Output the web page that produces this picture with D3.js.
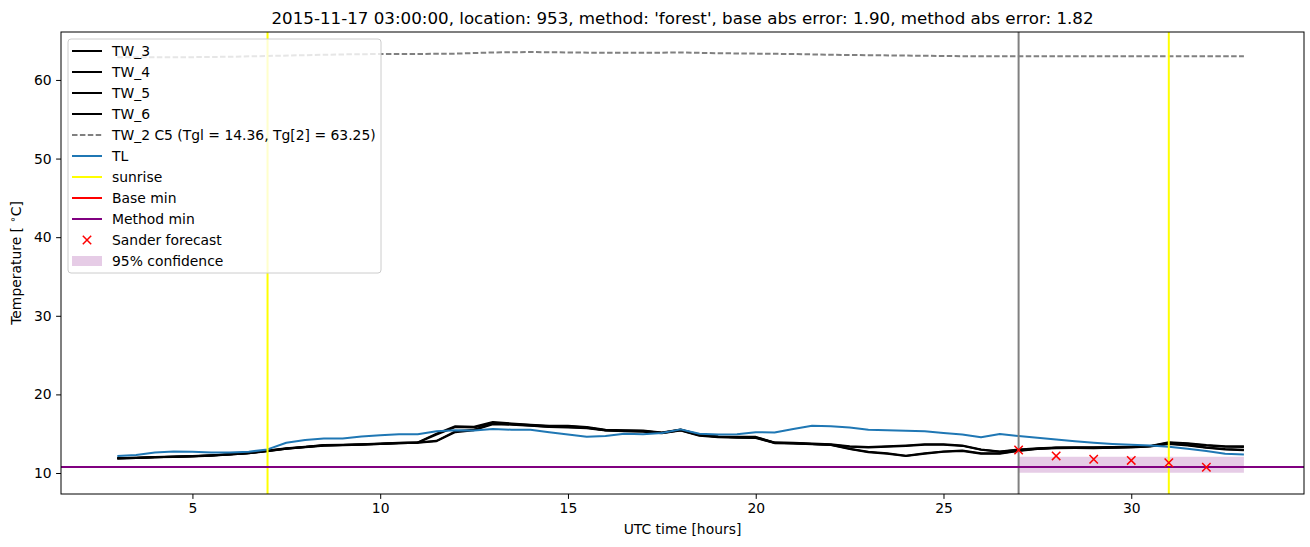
<!DOCTYPE html>
<html>
<head>
<meta charset="utf-8">
<script src="https://cdn.jsdelivr.net/npm/d3@7/dist/d3.min.js"></script>
<style>
  html, body { margin: 0; padding: 0; background: #fff; }
  svg { display: block; font-family: "DejaVu Sans", sans-serif; }
</style>
</head>
<body>
<svg id="chart" width="1310" height="547"></svg>
<script>
// ---------------- data ----------------
const hours = [3.0,3.5,4.0,4.5,5.0,5.5,6.0,6.5,7.0,7.5,8.0,8.5,9.0,9.5,10.0,10.5,11.0,11.5,12.0,12.5,13.0,13.5,14.0,14.5,15.0,15.5,16.0,16.5,17.0,17.5,18.0,18.5,19.0,19.5,20.0,20.5,21.0,21.5,22.0,22.5,23.0,23.5,24.0,24.5,25.0,25.5,26.0,26.5,27.0,27.5,28.0,28.5,29.0,29.5,30.0,30.5,31.0,31.5,32.0,32.5,33.0];

const TL = [12.16,12.3,12.6,12.75,12.7,12.6,12.6,12.7,13.0,13.85,14.2,14.4,14.4,14.65,14.8,14.92,14.92,15.3,15.45,15.4,15.6,15.5,15.5,15.2,14.9,14.6,14.7,15.0,14.92,15.1,15.55,15.0,14.9,14.92,15.2,15.15,15.6,16.0,15.95,15.8,15.5,15.45,15.38,15.3,15.1,14.9,14.55,14.95,14.7,14.5,14.25,14.05,13.85,13.7,13.58,13.5,13.35,13.1,12.8,12.45,12.35];

const TW_3 = [11.9,11.95,12.05,12.1,12.15,12.25,12.4,12.55,12.85,13.15,13.35,13.55,13.6,13.65,13.75,13.85,13.9,15.0,15.95,15.9,16.5,16.3,16.15,16.0,16.0,15.85,15.5,15.45,15.4,15.15,15.55,14.9,14.65,14.6,14.6,13.9,13.85,13.75,13.65,13.4,13.3,13.4,13.5,13.65,13.65,13.5,13.0,12.75,13.0,13.15,13.25,13.27,13.27,13.3,13.35,13.45,13.9,13.8,13.55,13.4,13.4];
const TW_4 = [11.85,11.92,12.0,12.06,12.12,12.22,12.36,12.52,12.8,13.1,13.3,13.5,13.56,13.62,13.7,13.8,13.86,14.9,15.85,15.8,16.4,16.25,16.1,15.95,15.95,15.8,15.45,15.4,15.35,15.12,15.5,14.85,14.6,14.56,14.55,13.85,13.8,13.7,13.6,13.35,13.25,13.35,13.45,13.6,13.6,13.45,12.95,12.7,12.95,13.1,13.2,13.22,13.22,13.26,13.3,13.42,13.85,13.72,13.5,13.35,13.32];
const TW_5 = [11.88,11.93,12.02,12.08,12.13,12.23,12.38,12.53,12.82,13.12,13.32,13.52,13.57,13.63,13.72,13.82,13.88,14.1,15.3,15.5,16.3,16.2,16.05,15.9,15.85,15.75,15.45,15.35,15.3,15.1,15.45,14.8,14.6,14.55,14.5,13.85,13.8,13.7,13.6,13.1,12.7,12.5,12.2,12.5,12.75,12.85,12.5,12.5,12.85,13.1,13.2,13.22,13.2,13.25,13.3,13.4,13.75,13.55,13.25,13.05,12.95];
const TW_6 = [11.84,11.9,12.0,12.05,12.1,12.2,12.35,12.5,12.78,13.08,13.28,13.48,13.54,13.6,13.68,13.78,13.84,14.05,15.2,15.45,16.2,16.15,16.0,15.85,15.8,15.7,15.4,15.3,15.25,15.05,15.4,14.75,14.55,14.5,14.45,13.8,13.75,13.65,13.55,13.05,12.65,12.45,12.15,12.45,12.7,12.8,12.45,12.45,12.8,13.05,13.15,13.18,13.16,13.2,13.26,13.36,13.7,13.5,13.2,13.0,12.9];

const tw2Hours = [3,4,5,6,7,8,9,10,11,12,13,14,15,16,17,18,19,20,21,22,23,24,25,26,27,28,29,30,31,32,33];
const TW_2 = [62.9,62.9,62.9,62.95,63.05,63.15,63.25,63.3,63.3,63.35,63.5,63.55,63.5,63.45,63.45,63.5,63.4,63.35,63.3,63.2,63.15,63.1,63.05,63.0,63.0,63.0,63.0,63.0,63.0,63.0,63.0];

const sunriseHours = [7, 31];
const forecastStartHour = 27;
const baseMin = 10.76;
const methodMin = 10.78;

const forecastHours = [27, 28, 29, 30, 31, 32];
const forecastValues = [12.93, 12.17, 11.75, 11.6, 11.3, 10.73];

const confHours = [27, 33];
const confLow = [10.04, 10.04];
const confHigh = [12.08, 12.08];

const xTicks = [5, 10, 15, 20, 25, 30];
const yTicks = [10, 20, 30, 40, 50, 60];

const titleText = "2015-11-17 03:00:00, location: 953, method: 'forest', base abs error: 1.90, method abs error: 1.82";
const legendLabels = ["TW_3","TW_4","TW_5","TW_6","TW_2 C5 (Tgl = 14.36, Tg[2] = 63.25)","TL","sunrise","Base min","Method min","Sander forecast","95% confidence"];

// ---------------- layout ----------------
const svg = d3.select("#chart");
const L = 61, R = 1304, T = 32, B = 494;
const x = d3.scaleLinear().domain([1.5, 34.6]).range([L, R]);
const y = d3.scaleLinear().domain([7.33, 66.1]).range([B, T]);

const clipId = "plotclip";
svg.append("defs").append("clipPath").attr("id", clipId)
  .append("rect").attr("x", L).attr("y", T).attr("width", R - L).attr("height", B - T);

const plot = svg.append("g").attr("clip-path", `url(#${clipId})`);

// confidence band
const area = d3.area().x((d, i) => x(confHours[i])).y0((d, i) => y(confLow[i])).y1((d, i) => y(confHigh[i]));
plot.append("path").datum(confHours).attr("d", area).attr("fill", "purple").attr("fill-opacity", 0.2);

const line = (xs, ys) => d3.line().x((d, i) => x(xs[i])).y((d, i) => y(ys[i]))(xs);

// TW lines
[TW_3, TW_4, TW_5, TW_6].forEach(s => {
  plot.append("path").attr("d", line(hours, s)).attr("fill", "none")
    .attr("stroke", "black").attr("stroke-width", 2).attr("stroke-linejoin", "round");
});
// TW_2 dashed
plot.append("path").attr("d", line(tw2Hours, TW_2)).attr("fill", "none")
  .attr("stroke", "gray").attr("stroke-width", 2).attr("stroke-dasharray", "5.5,2.4");
// TL
plot.append("path").attr("d", line(hours, TL)).attr("fill", "none")
  .attr("stroke", "#1f77b4").attr("stroke-width", 2).attr("stroke-linejoin", "round");

// sunrise lines
sunriseHours.forEach(h => {
  plot.append("line").attr("x1", x(h)).attr("x2", x(h)).attr("y1", T).attr("y2", B)
    .attr("stroke", "yellow").attr("stroke-width", 2);
});
// forecast start
plot.append("line").attr("x1", x(forecastStartHour)).attr("x2", x(forecastStartHour)).attr("y1", T).attr("y2", B)
  .attr("stroke", "gray").attr("stroke-width", 2);
// base min / method min
plot.append("line").attr("x1", L).attr("x2", R).attr("y1", y(baseMin)).attr("y2", y(baseMin))
  .attr("stroke", "red").attr("stroke-width", 2);
plot.append("line").attr("x1", L).attr("x2", R).attr("y1", y(methodMin)).attr("y2", y(methodMin))
  .attr("stroke", "purple").attr("stroke-width", 2);

// forecast markers
const ms = 4.2;
forecastHours.forEach((h, i) => {
  const cx = x(h), cy = y(forecastValues[i]);
  plot.append("path").attr("d", `M${cx-ms},${cy-ms}L${cx+ms},${cy+ms}M${cx-ms},${cy+ms}L${cx+ms},${cy-ms}`)
    .attr("stroke", "red").attr("stroke-width", 1.5).attr("fill", "none");
});

// frame
svg.append("rect").attr("x", L).attr("y", T).attr("width", R - L).attr("height", B - T)
  .attr("fill", "none").attr("stroke", "black").attr("stroke-width", 1);

// axes
const fs = 13.9;
const xAxis = svg.append("g").attr("transform", `translate(0,${B})`)
  .call(d3.axisBottom(x).tickValues(xTicks).tickSize(4.9).tickPadding(4.5).tickFormat(d3.format("d")));
const yAxis = svg.append("g").attr("transform", `translate(${L},0)`)
  .call(d3.axisLeft(y).tickValues(yTicks).tickSize(4.9).tickPadding(4.5).tickFormat(d3.format("d")));
[xAxis, yAxis].forEach(a => {
  a.select(".domain").remove();
  a.selectAll("text").attr("font-family", "DejaVu Sans, sans-serif").attr("font-size", fs).attr("fill", "black");
  a.selectAll("line").attr("stroke", "black").attr("stroke-width", 1);
});

// labels
svg.append("text").attr("x", (L + R) / 2).attr("y", 534).attr("text-anchor", "middle")
  .attr("font-size", fs).text("UTC time [hours]");
const yl = svg.append("text").attr("transform", `translate(21,${(T + B) / 2}) rotate(-90)`)
  .attr("text-anchor", "middle").attr("font-size", fs);
yl.append("tspan").text("Temperature [ ");
yl.append("tspan").attr("font-size", 10).attr("dy", -5).text("\u2218");
yl.append("tspan").attr("dy", 5).text("C]");

svg.append("text").attr("x", (L + R) / 2).attr("y", 24).attr("text-anchor", "middle")
  .attr("font-size", 16.7).text(titleText);

// legend
const lg = svg.append("g");
lg.append("rect").attr("x", 68).attr("y", 39).attr("width", 313).attr("height", 234).attr("rx", 3)
  .attr("fill", "white").attr("fill-opacity", 0.8).attr("stroke", "#cccccc").attr("stroke-width", 1);
const rowY = i => 51 + i * 21;
const hx1 = 72, hx2 = 102, tx = 112;
legendLabels.forEach((lab, i) => {
  const yy = rowY(i);
  if (i < 4) {
    lg.append("line").attr("x1", hx1).attr("x2", hx2).attr("y1", yy).attr("y2", yy).attr("stroke", "black").attr("stroke-width", 2);
  } else if (i === 4) {
    lg.append("line").attr("x1", hx1).attr("x2", hx2).attr("y1", yy).attr("y2", yy).attr("stroke", "gray").attr("stroke-width", 2).attr("stroke-dasharray", "5.5,2.4");
  } else if (i === 5) {
    lg.append("line").attr("x1", hx1).attr("x2", hx2).attr("y1", yy).attr("y2", yy).attr("stroke", "#1f77b4").attr("stroke-width", 2);
  } else if (i === 6) {
    lg.append("line").attr("x1", hx1).attr("x2", hx2).attr("y1", yy).attr("y2", yy).attr("stroke", "yellow").attr("stroke-width", 2);
  } else if (i === 7) {
    lg.append("line").attr("x1", hx1).attr("x2", hx2).attr("y1", yy).attr("y2", yy).attr("stroke", "red").attr("stroke-width", 2);
  } else if (i === 8) {
    lg.append("line").attr("x1", hx1).attr("x2", hx2).attr("y1", yy).attr("y2", yy).attr("stroke", "purple").attr("stroke-width", 2);
  } else if (i === 9) {
    const cx = (hx1 + hx2) / 2;
    lg.append("path").attr("d", `M${cx-ms},${yy-ms}L${cx+ms},${yy+ms}M${cx-ms},${yy+ms}L${cx+ms},${yy-ms}`)
      .attr("stroke", "red").attr("stroke-width", 1.5);
  } else {
    lg.append("rect").attr("x", hx1).attr("y", yy - 5).attr("width", hx2 - hx1).attr("height", 10)
      .attr("fill", "purple").attr("fill-opacity", 0.2);
  }
  lg.append("text").attr("x", tx).attr("y", yy).attr("dy", "0.36em").attr("font-size", fs).text(lab);
});
</script>
</body>
</html>
